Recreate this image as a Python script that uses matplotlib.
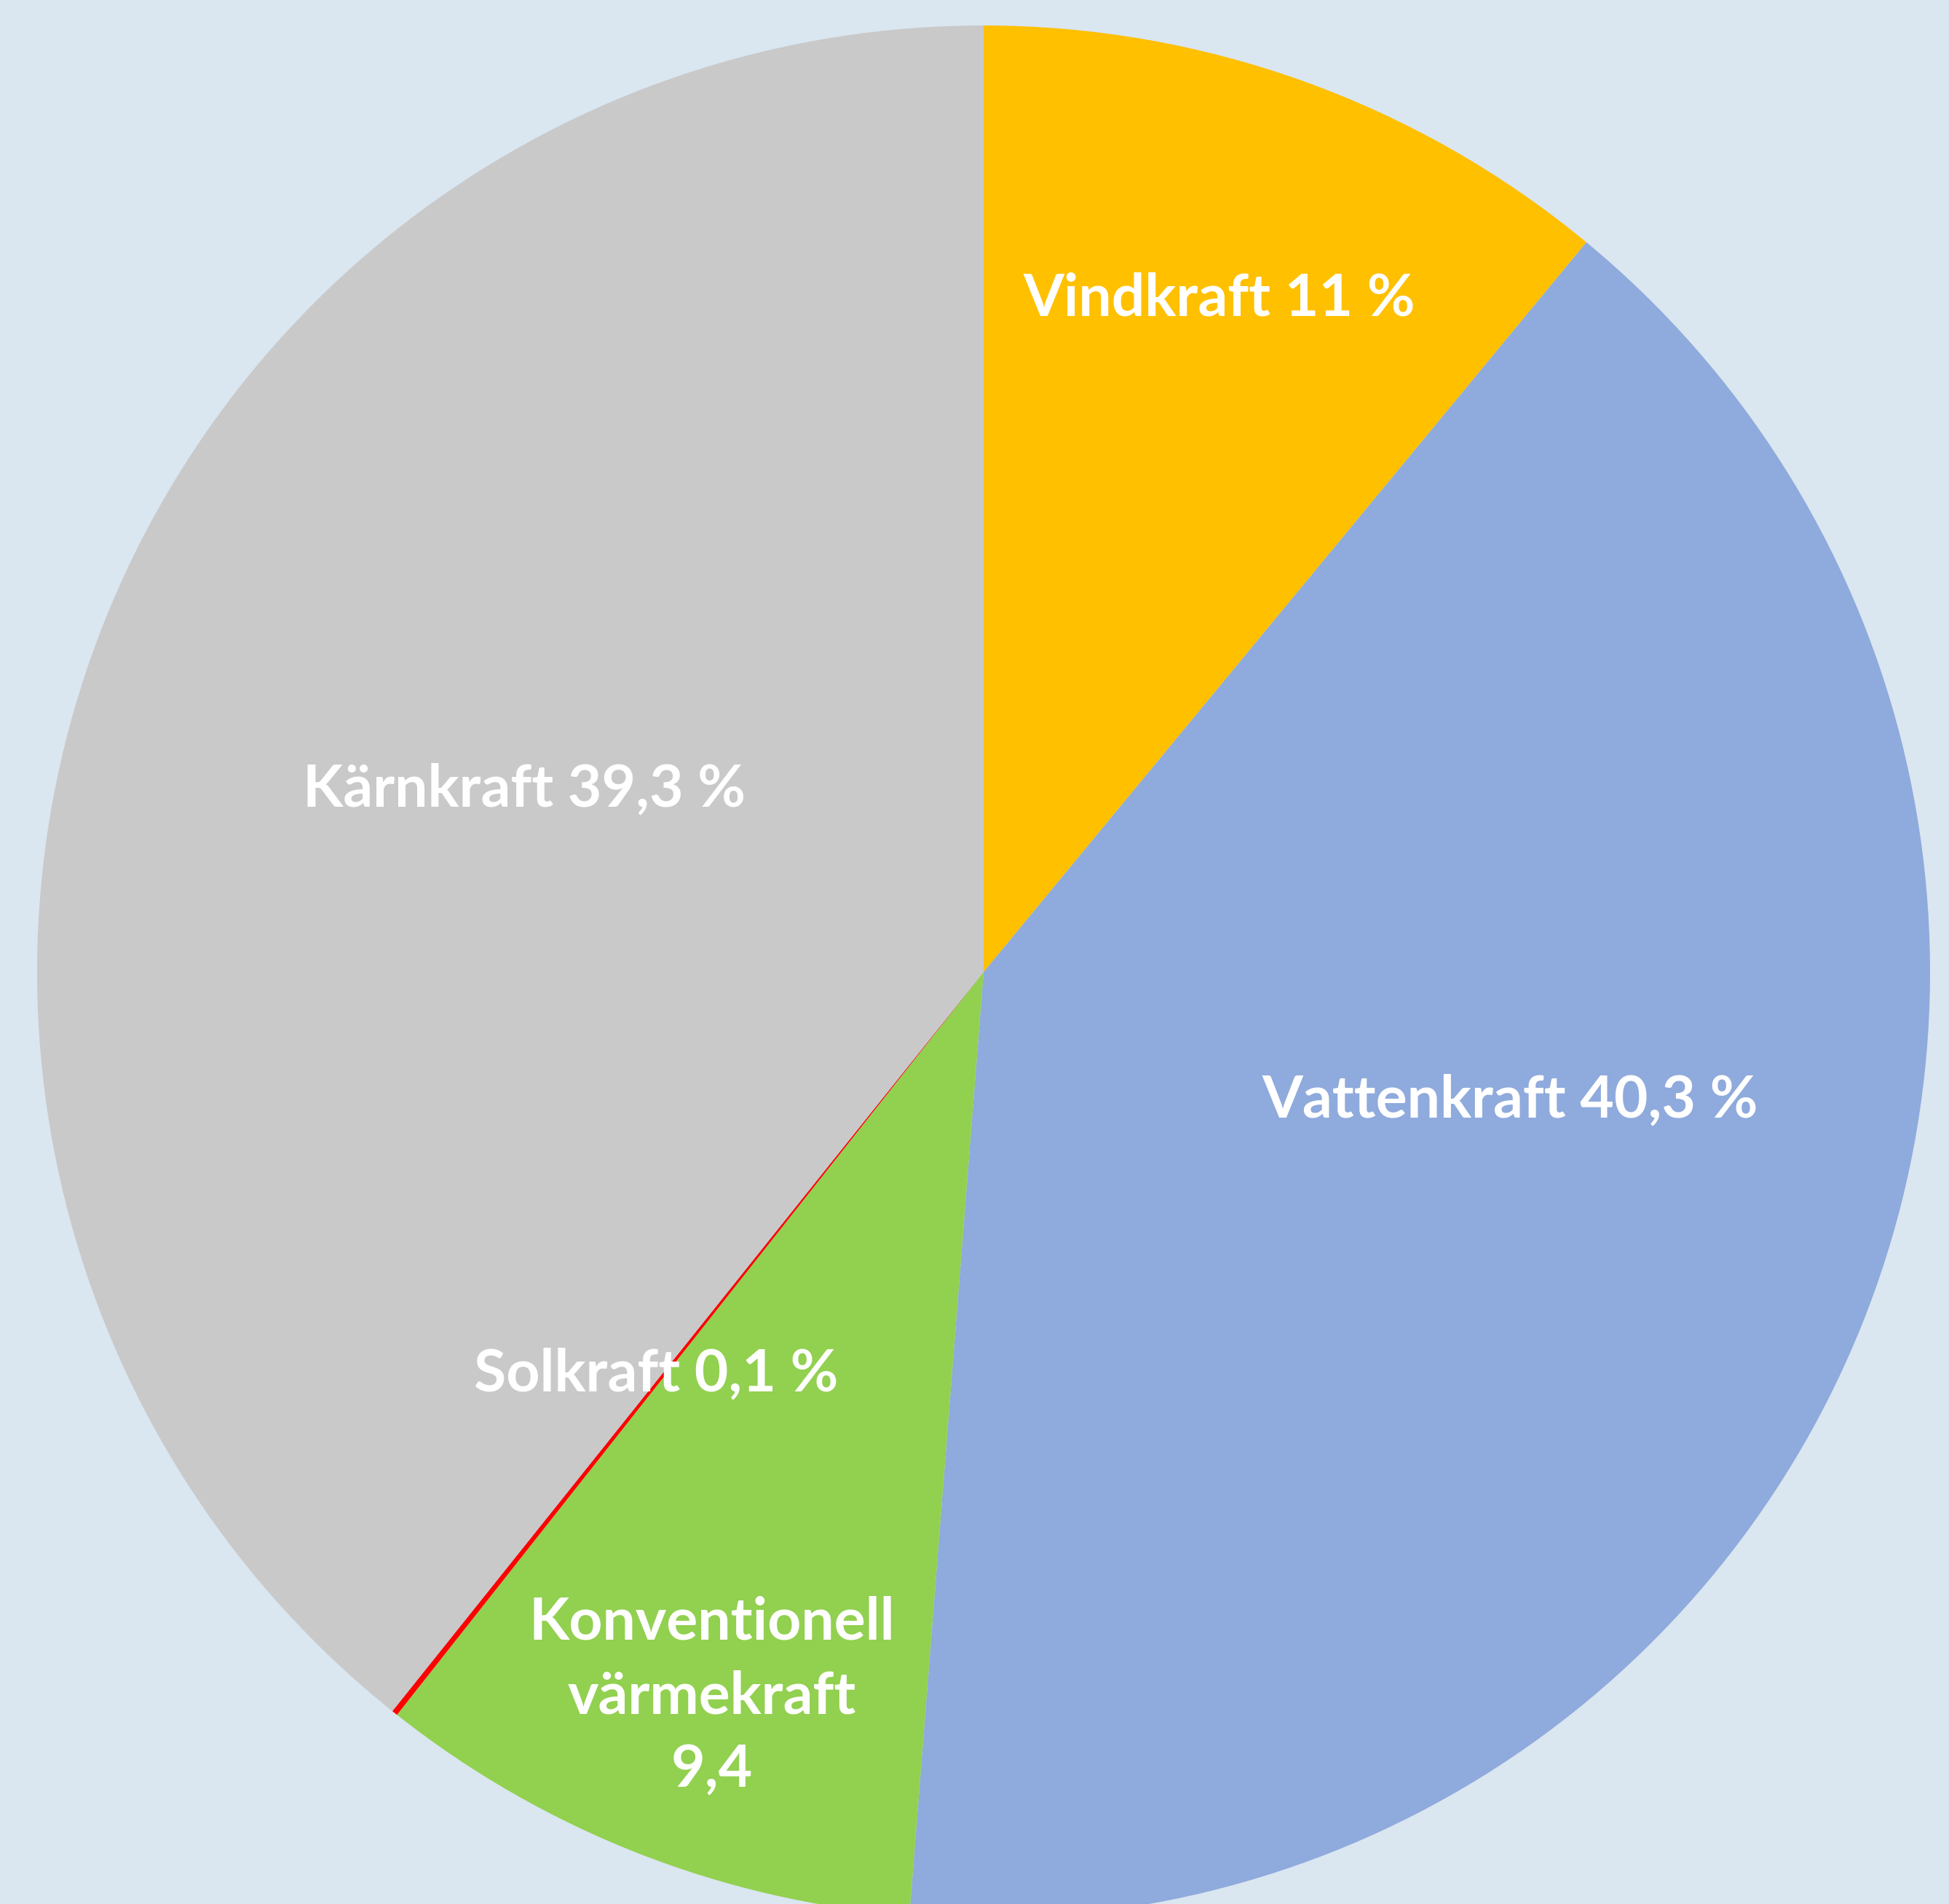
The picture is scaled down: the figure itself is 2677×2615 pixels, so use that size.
import matplotlib.pyplot as plt

plt.rcParams.update({
    'font.family': ['Lato', 'DejaVu Sans'],
    'font.weight': 'bold',
})

# Elproduktion per kraftslag (%), clockwise from 12 o'clock
sources = ['Vindkraft', 'Vattenkraft', 'Konventionell värmekraft', 'Solkraft', 'Kärnkraft']
shares = [11.0, 40.3, 9.4, 0.1, 39.3]
label_texts = ['Vindkraft 11 %', 'Vattenkraft 40,3 %',
               'Konventionell\nvärmekraft\n9,4', 'Solkraft 0,1 %', 'Kärnkraft 39,3 %']
colors = ['#FFC000', '#8FAADC', '#92D050', '#FF0000', '#C9C9C9']

W, H = 2677, 2615
bg = '#DAE6F0'

fig = plt.figure(figsize=(W / 100, H / 100), dpi=100, facecolor=bg)
ax = fig.add_axes([0, 0, 1, 1])
ax.set_facecolor(bg)

# pixel-like data space, y measured from the bottom
cx, cy, r = 1351, H - 1335, 1300
ax.pie(shares, colors=colors, startangle=90, counterclock=False,
       center=(cx, cy), radius=r, wedgeprops=dict(linewidth=0))

ax.set_xlim(0, W)
ax.set_ylim(0, H)
ax.set_aspect('equal')
ax.axis('off')

# label positions (hand-placed as in the source chart)
label_xy = [(1675, H - 410), (2074, H - 1511), (978, H - 2330),
            (901, H - 1887), (720, H - 1084)]
for txt, (x, y) in zip(label_texts, label_xy):
    ax.text(x, y, txt, ha='center', va='center', color='white',
            fontsize=58, fontweight='bold', linespacing=1.45)

fig.savefig('out.png', dpi=100, facecolor=bg)
